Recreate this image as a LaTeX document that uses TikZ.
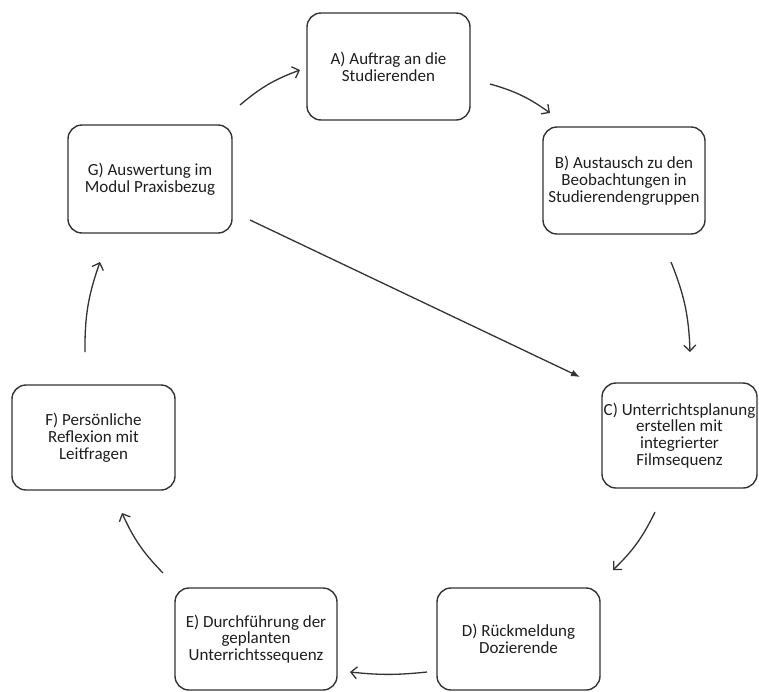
\documentclass[tikz,border=0pt]{standalone}
\usepackage{fontspec}
\setmainfont{Carlito}
\usetikzlibrary{arrows.meta}
\definecolor{boxgray}{HTML}{333333}
\definecolor{arrgray}{HTML}{333333}
\definecolor{txt}{HTML}{1E1E1E}
\begin{document}
\begin{tikzpicture}[x=1pt,y=-1pt,
  box/.style={draw=boxgray,line width=1.4pt,rounded corners=14pt,align=center,
    font=\fontsize{17}{16.8}\selectfont,text=txt,inner sep=0pt},
  flow/.style={draw=arrgray,line width=1.3pt,-{Straight Barb[length=6pt,width=12pt]}},
  diag/.style={draw=arrgray,line width=1.3pt,-{Latex[length=9pt,width=7pt]}},
]
\useasboundingbox (0,0) rectangle (759,691);
\node[box,minimum width=163pt,minimum height=107pt] (A) at (388.5,66.5) {A) Auftrag an die\\Studierenden};
\node[box,minimum width=162pt,minimum height=107pt] (B) at (624,180.5) {B) Austausch zu den\\Beobachtungen in\\Studierendengruppen};
\node[box,minimum width=155pt,minimum height=105pt] (C) at (679.5,435.5) {C) Unterrichtsplanung\\erstellen mit\\integrierter\\Filmsequenz};
\node[box,minimum width=163pt,minimum height=102pt] (D) at (518.5,639) {D) Rückmeldung\\Dozierende};
\node[box,minimum width=162pt,minimum height=102pt] (E) at (256,639) {E) Durchführung der\\geplanten\\Unterrichtssequenz};
\node[box,minimum width=163pt,minimum height=105pt] (F) at (93.5,437.5) {F) Persönliche\\Reflexion mit\\Leitfragen};
\node[box,minimum width=164pt,minimum height=108pt] (G) at (150,179) {G) Auswertung im\\Modul Praxisbezug};
\coordinate (ab1) at (490,84);  \coordinate (ab2) at (550,113);
\coordinate (bc1) at (671,262); \coordinate (bc2) at (690,352);
\coordinate (cd1) at (655,512); \coordinate (cd2) at (613,570);
\coordinate (de1) at (427,672); \coordinate (de2) at (350,672);
\coordinate (ef1) at (163,573); \coordinate (ef2) at (122,513);
\coordinate (fg1) at (85,352);  \coordinate (fg2) at (100,262);
\coordinate (ga1) at (240,105); \coordinate (ga2) at (300,70);
\coordinate (gc1) at (250,220); \coordinate (gc2) at (580,377);
\draw[flow] (ab1) to[bend left=10] (ab2);
\draw[flow] (bc1) to[bend left=10] (bc2);
\draw[flow] (cd1) to[bend left=10] (cd2);
\draw[flow] (de1) to[bend left=6] (de2);
\draw[flow] (ef1) to[bend left=10] (ef2);
\draw[flow] (fg1) to[bend left=10] (fg2);
\draw[flow] (ga1) to[bend left=10] (ga2);
\draw[diag] (gc1) -- (gc2);
\end{tikzpicture}
\end{document}
